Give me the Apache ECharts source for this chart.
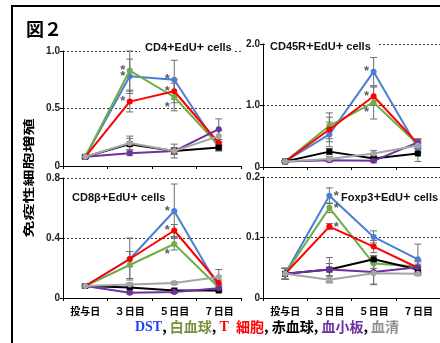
<!DOCTYPE html>
<html><head><meta charset="utf-8">
<script src="https://cdn.jsdelivr.net/npm/echarts@6/dist/echarts.min.js"></script>
<style>html,body{margin:0;padding:0;background:#fff}#c{width:440px;height:343px}</style>
</head><body><div id="c"></div>
<script>
// ---------- DATA ----------
const categories = ['投与日', '３日目', '５日目', '７日目'];
const seriesNames = ['DST', '白血球', 'T 細胞', '赤血球', '血小板', '血清'];

// series order: DST, 白血球, T細胞, 赤血球, 血小板, 血清
const cd4Mean = [
  [0.08, 0.78, 0.75, 0.16],
  [0.08, 0.83, 0.60, 0.18],
  [0.08, 0.56, 0.65, 0.20],
  [0.08, 0.19, 0.13, 0.16],
  [0.08, 0.11, 0.13, 0.32],
  [0.08, 0.20, 0.13, 0.26]
];
const cd4Err = [
  [0.01, 0.15, 0.17, 0.03],
  [0.01, 0.17, 0.12, 0.03],
  [0.01, 0.09, 0.10, 0.03],
  [0.01, 0.05, 0.03, 0.02],
  [0.01, 0.02, 0.03, 0.09],
  [0.01, 0.06, 0.06, 0.05]
];
const cd4Ticks = [0, 0.5, 1.0];
const cd4Stars = [[0, 1, 'L'], [1, 1, 'L'], [2, 1, 'L'], [0, 2, 'L'], [2, 2, 'L'], [1, 2, 'LB']];

const cd45rMean = [
  [0.09, 0.53, 1.55, 0.31],
  [0.09, 0.67, 1.05, 0.37],
  [0.09, 0.61, 1.15, 0.38],
  [0.09, 0.25, 0.14, 0.22],
  [0.09, 0.11, 0.10, 0.40],
  [0.09, 0.13, 0.22, 0.35]
];
const cd45rErr = [
  [0.01, 0.20, 0.23, 0.07],
  [0.01, 0.21, 0.27, 0.07],
  [0.01, 0.20, 0.15, 0.07],
  [0.01, 0.05, 0.04, 0.13],
  [0.01, 0.03, 0.03, 0.06],
  [0.01, 0.04, 0.05, 0.06]
];
const cd45rTicks = [0, 1.0, 2.0];
const cd45rStars = [[0, 2, 'L'], [2, 2, 'L'], [1, 2, 'LB']];

const cd8Mean = [
  [0.08, 0.26, 0.58, 0.07],
  [0.08, 0.22, 0.36, 0.07],
  [0.08, 0.26, 0.45, 0.10],
  [0.08, 0.07, 0.05, 0.05],
  [0.08, 0.035, 0.04, 0.065],
  [0.08, 0.09, 0.10, 0.14]
];
const cd8Err = [
  [0.005, 0.14, 0.18, 0.02],
  [0.005, 0.09, 0.04, 0.02],
  [0.005, 0.05, 0.04, 0.02],
  [0.005, 0.01, 0.01, 0.01],
  [0.005, 0.01, 0.01, 0.01],
  [0.005, 0.01, 0.01, 0.05]
];
const cd8Ticks = [0, 0.4, 0.8];
const cd8Stars = [[0, 2, 'L'], [2, 2, 'L'], [1, 2, 'LB']];

const foxp3Mean = [
  [0.04, 0.169, 0.101, 0.064],
  [0.04, 0.149, 0.057, 0.052],
  [0.04, 0.118, 0.085, 0.050],
  [0.04, 0.047, 0.064, 0.047],
  [0.04, 0.047, 0.043, 0.051],
  [0.04, 0.030, 0.041, 0.040]
];
const foxp3Err = [
  [0.009, 0.013, 0.010, 0.025],
  [0.009, 0.008, 0.008, 0.010],
  [0.009, 0.005, 0.010, 0.010],
  [0.009, 0.020, 0.006, 0.005],
  [0.009, 0.010, 0.020, 0.005],
  [0.009, 0.005, 0.019, 0.003]
];
const foxp3Ticks = [0, 0.1, 0.2];
const foxp3Stars = [[0, 1, 'R'], [1, 1, 'R'], [2, 1, 'R']];

// ---------- STYLE / LAYOUT ----------
const lineColors = ['#4a7fd5', '#6fad47', '#ff0000', '#000000', '#7030a0', '#a5a5a5'];
const legendColors = ['#1f3ff5', '#76923c', '#ff0000', '#000000', '#7030a0', '#8f8f8f'];
const LAT = '"Liberation Sans", Arial, sans-serif';
const CJK = '"Noto Sans CJK JP", sans-serif';

const panels = [
  { title: ['CD4', 'EdU'], mean: cd4Mean, err: cd4Err, ticks: cd4Ticks, stars: cd4Stars,
    grid: { left: 63, top: 51, width: 178, height: 115 }, labels: false, tx: 140, ty: 48, pad: [0, 3, 0, 5] },
  { title: ['CD45R', 'EdU'], mean: cd45rMean, err: cd45rErr, ticks: cd45rTicks, stars: cd45rStars,
    grid: { left: 263, top: 44, width: 177, height: 123 }, labels: false, tx: 266, ty: 47, pad: [0, 8, 0, 4] },
  { title: ['CD8β', 'EdU'], mean: cd8Mean, err: cd8Err, ticks: cd8Ticks, stars: cd8Stars,
    grid: { left: 63, top: 178, width: 178, height: 120 }, labels: true, tx: 72, ty: 198, pad: 0 },
  { title: ['Foxp3', 'EdU'], mean: foxp3Mean, err: foxp3Err, ticks: foxp3Ticks, stars: foxp3Stars,
    grid: { left: 263, top: 177, width: 177, height: 121 }, labels: true, tx: 341, ty: 198, pad: 0 }
];
const starOffset = { L: [-7, 0], LB: [-7, 10], R: [7, 1] };

const grids = [], xAxes = [], yAxes = [], series = [], graphics = [];

function renderErr(params, api) {
  const i = api.value(0), m = api.value(1), e = api.value(2);
  const t = api.coord([i, m + e]), b = api.coord([i, Math.max(0, m - e)]);
  const w = 3.5, st = { stroke: '#6e6e6e', lineWidth: 1 };
  return { type: 'group', children: [
    { type: 'line', shape: { x1: t[0], y1: t[1], x2: b[0], y2: b[1] }, style: st },
    { type: 'line', shape: { x1: t[0] - w, y1: t[1], x2: t[0] + w, y2: t[1] }, style: st },
    { type: 'line', shape: { x1: b[0] - w, y1: b[1], x2: b[0] + w, y2: b[1] }, style: st }
  ] };
}

panels.forEach((p, k) => {
  grids.push(Object.assign({ containLabel: false }, p.grid));
  xAxes.push({
    type: 'category', gridIndex: k, data: categories, boundaryGap: true,
    axisLine: { show: true, lineStyle: { color: '#000', width: 1 } },
    axisTick: { show: true, length: 3, lineStyle: { color: '#000' } },
    axisLabel: { show: p.labels, margin: 8, fontSize: 10, fontWeight: 'bold', color: '#000', fontFamily: CJK },
    splitLine: { show: false }
  });
  const tk = p.ticks;
  yAxes.push({
    type: 'value', gridIndex: k, min: tk[0], max: tk[tk.length - 1], interval: tk[1] - tk[0],
    axisLine: { show: true, lineStyle: { color: '#000', width: 1 } },
    axisTick: { show: true, length: 3, lineStyle: { color: '#000' } },
    axisLabel: { margin: 3, fontSize: 10, fontWeight: 'bold', color: '#222', fontFamily: LAT,
      formatter: v => (v === 0 ? '0' : v.toFixed(1)) },
    splitLine: { show: true, lineStyle: { color: '#333', width: 1, type: [2, 2] } }
  });
  // error bars
  const errData = [];
  p.mean.forEach((arr, s) => arr.forEach((m, i) => errData.push([i, m, p.err[s][i]])));
  series.push({ type: 'custom', xAxisIndex: k, yAxisIndex: k, renderItem: renderErr,
    data: errData, encode: { x: 0, y: 1 }, z: 1, silent: true, clip: false });
  // lines
  p.mean.forEach((arr, s) => {
    series.push({
      type: 'line', name: seriesNames[s], xAxisIndex: k, yAxisIndex: k, data: arr,
      symbol: s === 3 ? 'rect' : 'circle', symbolSize: 6, showSymbol: true,
      lineStyle: { color: lineColors[s], width: 2 }, itemStyle: { color: lineColors[s] },
      z: 2 + s * 0.01, silent: true
    });
  });
  // asterisks
  series.push({
    type: 'scatter', xAxisIndex: k, yAxisIndex: k, z: 4, silent: true,
    symbol: 'circle', symbolSize: 1, itemStyle: { color: 'rgba(0,0,0,0)' },
    data: p.stars.map(([s, i, side]) => ({
      value: [i, p.mean[s][i]],
      label: { show: true, formatter: '*', position: 'inside', offset: starOffset[side],
        fontSize: 13, color: '#333', fontFamily: LAT, fontWeight: 'bold' }
    }))
  });
  // panel title
  graphics.push({
    type: 'text', x: p.tx, y: p.ty, z: 10,
    style: {
      text: '{a|' + p.title[0] + '}{s|+}{a|' + p.title[1] + '}{s|+}{a| cells}',
      textAlign: 'left', textVerticalAlign: 'middle',
      backgroundColor: p.pad === 0 ? 'transparent' : '#fff', padding: p.pad,
      rich: {
        a: { fontSize: 11, fontWeight: 'bold', fontFamily: LAT, fill: '#111', lineHeight: 15 },
        s: { fontSize: 13, fontWeight: 'bold', fontFamily: LAT, fill: '#111', lineHeight: 8, verticalAlign: 'top' }
      }
    }
  });
});

// frame
graphics.push({ type: 'polyline', z: 10, shape: { points: [[12, 343], [12, 6], [440, 6]] },
  style: { stroke: '#000', lineWidth: 2, fill: null } });
// figure label
graphics.push({ type: 'text', x: 26, y: 29, z: 10,
  style: { text: '図２', font: 'bold 18px ' + CJK, fill: '#000', textAlign: 'left', textVerticalAlign: 'middle' } });
// y label
graphics.push({ type: 'text', x: 29, y: 178, rotation: Math.PI / 2, scaleY: 0.66, z: 10,
  style: { text: '免疫性細胞増殖', font: 'bold 17px ' + CJK, fill: '#000', textAlign: 'center', textVerticalAlign: 'middle' } });
// legend text
const legRich = {
  c: { fontSize: 14, fontWeight: 'bold', fontFamily: CJK, fill: '#000' }
};
let legText = '';
seriesNames.forEach((n, s) => {
  const key = 'n' + s;
  const parts = n.split(' ');
  if (s === 0) {
    legRich[key] = { fontSize: 14, fontWeight: 'bold', fontFamily: '"Liberation Serif", serif', fill: legendColors[s] };
    legText += '{' + key + '|' + n + '}';
  } else if (parts.length > 1) {
    legRich[key + 'a'] = { fontSize: 14, fontWeight: 'bold', fontFamily: '"Liberation Serif", serif', fill: legendColors[s] };
    legRich[key] = { fontSize: 14, fontWeight: 'bold', fontFamily: CJK, fill: legendColors[s] };
    legText += '{' + key + 'a|' + parts[0] + '  }{' + key + '|' + parts[1] + '}';
  } else {
    legRich[key] = { fontSize: 14, fontWeight: 'bold', fontFamily: CJK, fill: legendColors[s] };
    legText += '{' + key + '|' + n + '}';
  }
  if (s < seriesNames.length - 1) legText += '{c|, }';
});
graphics.push({ type: 'text', x: 267, y: 327, z: 10,
  style: { text: legText, rich: legRich, textAlign: 'center', textVerticalAlign: 'middle' } });

const chart = echarts.init(document.getElementById('c'), null, { renderer: 'canvas' });
chart.setOption({
  animation: false,
  backgroundColor: '#fff',
  grid: grids, xAxis: xAxes, yAxis: yAxes, series: series, graphic: graphics
});
</script></body></html>
